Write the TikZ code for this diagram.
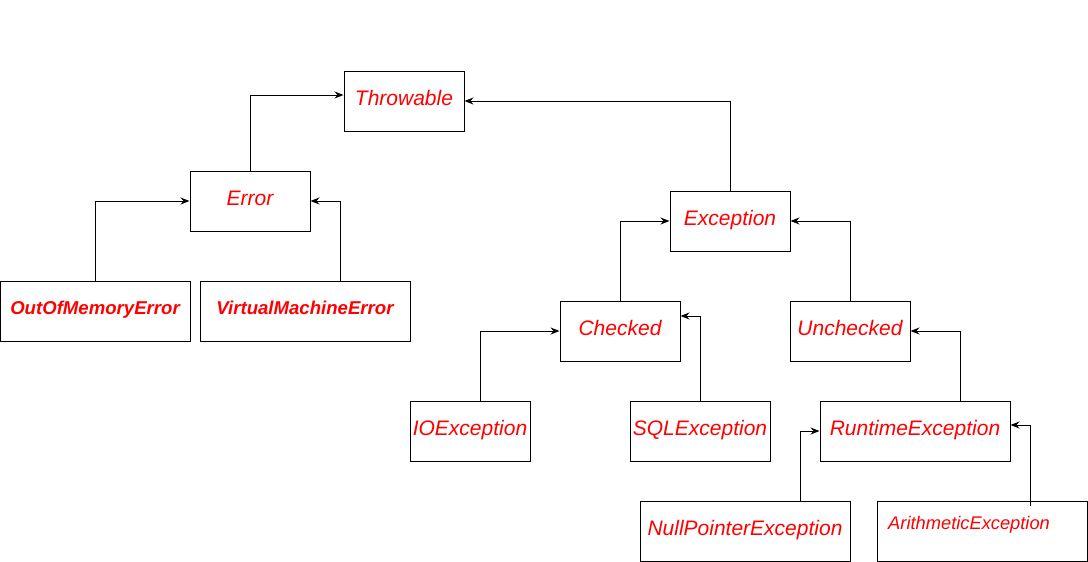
\documentclass[tikz,border=0pt]{standalone}
\usepackage{fontspec}
\setmainfont{Liberation Sans}
\usetikzlibrary{arrows.meta,calc}
\definecolor{txtred}{HTML}{FF0000}
\tikzset{
  box/.style={draw=black, line width=1pt, rectangle, minimum width=120pt, minimum height=60pt, inner sep=0pt,
    text=txtred, font=\fontsize{21}{25}\selectfont\itshape, text height=15.5pt, text depth=7.5pt},
  boldbox/.style={box, font=\fontsize{18.6}{22}\selectfont\bfseries\itshape, text height=14pt, text depth=8pt},
  link/.style={draw=black, line width=1pt, -{Stealth[length=9pt,width=7pt,inset=3pt]}},
}
\begin{document}
\begin{tikzpicture}[x=1pt,y=-1pt]
\useasboundingbox (0,0) rectangle (1088,562);
\node[box] (thr) at (404,101) {Throwable};
\node[box] (err) at (250,201) {Error};
\node[box] (exc) at (730,221) {Exception};
\node[boldbox, minimum width=190pt] (oom) at (95,311) {OutOfMemoryError};
\node[boldbox, minimum width=210pt] (vme) at (305,311) {VirtualMachineError};
\node[box] (chk) at (620,331) {Checked};
\node[box] (unc) at (850,331) {Unchecked};
\node[box] (io) at (470,431) {IOException};
\node[box, minimum width=140pt] (sql) at (700,431) {SQLException};
\node[box, minimum width=190pt] (rt) at (915,431) {RuntimeException};
\node[box, minimum width=210pt] (npe) at (745,531) {NullPointerException};
\node[box, minimum width=210pt] (ari) at (982,531) {};
\node[anchor=base west, inner sep=0pt, text=txtred, font=\fontsize{18.3}{22}\selectfont\itshape] (aritxt) at (888,529) {ArithmeticException};

\draw[link] (err.north) |- ([yshift=6pt]thr.west);
\draw[link] (exc.north) |- (thr.east);
\draw[link] (oom.north) |- (err.west);
\draw[link] ([xshift=35pt]vme.north) |- (err.east);
\draw[link] (chk.north) |- (exc.west);
\draw[link] (unc.north) |- (exc.east);
\draw[link] ([xshift=10pt]io.north) |- (chk.west);
\draw[link] (sql.north) |- ([yshift=15pt]chk.east);
\draw[link] ([xshift=45pt]rt.north) |- (unc.east);
\draw[link] ([xshift=55pt]npe.north) |- (rt.west);
\draw[link] ([xshift=48pt,yshift=-5pt]ari.north) |- ([yshift=6pt]rt.east);
\end{tikzpicture}
\end{document}
